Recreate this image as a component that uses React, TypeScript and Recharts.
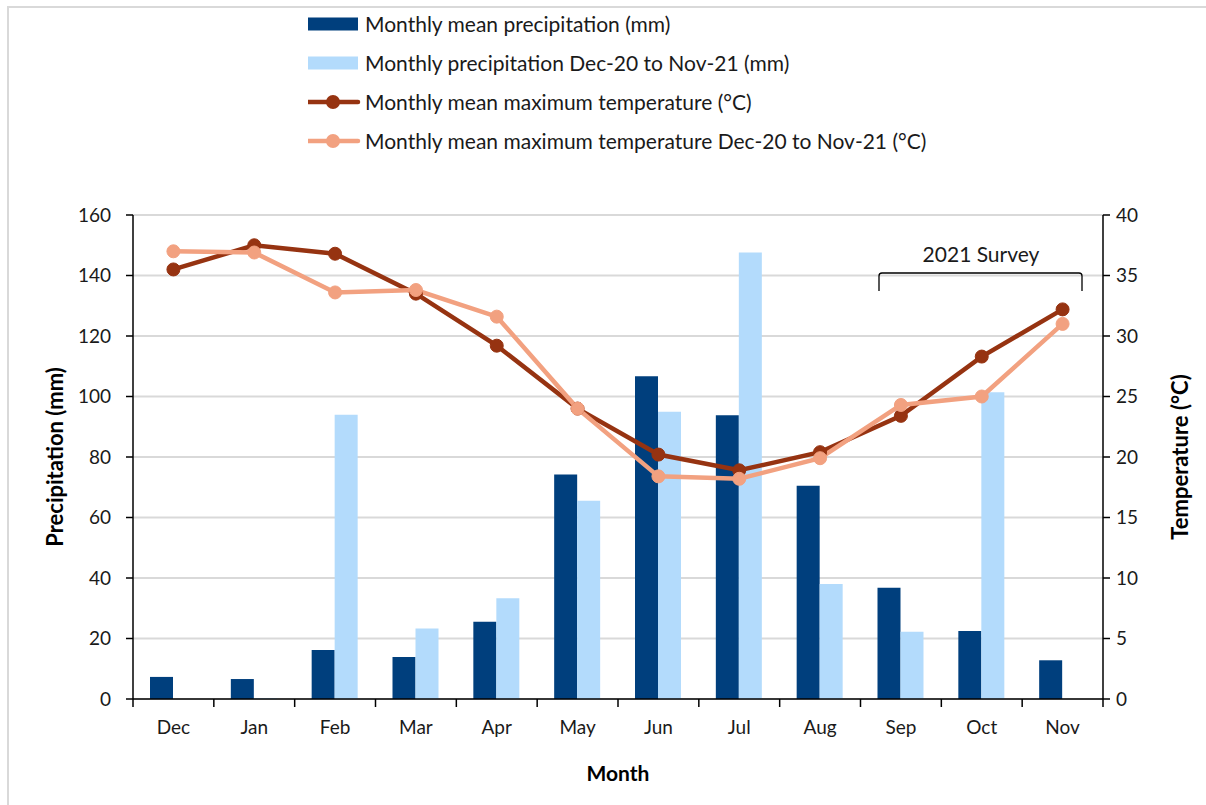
import React from 'react';
import { ComposedChart, Bar, Line, XAxis, YAxis, CartesianGrid, Customized } from 'recharts';

const months = ['Dec', 'Jan', 'Feb', 'Mar', 'Apr', 'May', 'Jun', 'Jul', 'Aug', 'Sep', 'Oct', 'Nov'];
const meanPrecip = [7.3, 6.6, 16.2, 13.9, 25.5, 74.2, 106.7, 93.8, 70.5, 36.8, 22.5, 12.8];
const precip2021 = [0, 0.3, 94.0, 23.3, 33.3, 65.5, 95.0, 147.6, 38.0, 22.2, 101.4, 0];
const meanMaxTemp = [35.5, 37.5, 36.8, 33.5, 29.2, 24.0, 20.2, 18.9, 20.4, 23.4, 28.3, 32.2];
const maxTemp2021 = [37.0, 36.9, 33.6, 33.8, 31.6, 24.0, 18.4, 18.2, 19.9, 24.3, 25.0, 31.0];
const precipTicks = [0, 20, 40, 60, 80, 100, 120, 140, 160];
const tempTicks = [0, 5, 10, 15, 20, 25, 30, 35, 40];

const seriesNames = [
  'Monthly mean precipitation (mm)',
  'Monthly precipitation Dec-20 to Nov-21 (mm)',
  'Monthly mean maximum temperature (°C)',
  'Monthly mean maximum temperature Dec-20 to Nov-21 (°C)',
];

const data = months.map((m, i) => ({
  month: m,
  meanPrecip: meanPrecip[i],
  precip2021: precip2021[i],
  meanMaxTemp: meanMaxTemp[i],
  maxTemp2021: maxTemp2021[i],
}));

const FONT = 'Lato, "Open Sans", sans-serif';
const TEXT = '#1a1a1a';
const DARK_BAR = '#003f7d';
const LIGHT_BAR = '#b3dbfc';
const DARK_LINE = '#963311';
const LIGHT_LINE = '#f2a180';

// layout
const W = 1206;
const H = 805;
const PLOT_LEFT = 133;
const PLOT_RIGHT = 1103;
const BAND = (PLOT_RIGHT - PLOT_LEFT) / months.length;

const MonthTick = (props: any) => {
  const { x, y, payload } = props;
  const last = payload.index === months.length - 1;
  return (
    <g>
      <line x1={x - BAND / 2} x2={x - BAND / 2} y1={y} y2={y + 8} stroke="#000" strokeWidth={1.5} />
      {last && <line x1={x + BAND / 2} x2={x + BAND / 2} y1={y} y2={y + 8} stroke="#000" strokeWidth={1.5} />}
      <text x={x} y={y + 35} textAnchor="middle" fontSize={19} fill={TEXT} fontFamily={FONT}>
        {payload.value}
      </text>
    </g>
  );
};

const SurveyBracket = () => (
  <g>
    <path
      d="M879,291 V276 Q879,273 882,273 H1079 Q1082,273 1082,276 V291"
      fill="none"
      stroke="#000"
      strokeWidth={1.3}
    />
    <text x={981} y={262} textAnchor="middle" fontSize={21} fill={TEXT} fontFamily={FONT}>
      2021 Survey
    </text>
  </g>
);

const legendItems = [
  { name: seriesNames[0], color: DARK_BAR, kind: 'bar' },
  { name: seriesNames[1], color: LIGHT_BAR, kind: 'bar' },
  { name: seriesNames[2], color: DARK_LINE, kind: 'line' },
  { name: seriesNames[3], color: LIGHT_LINE, kind: 'line' },
];

const ChartLegend = () => (
  <div style={{ position: 'absolute', left: 308, top: 4, fontFamily: FONT, fontSize: 21, color: TEXT }}>
    {legendItems.map((it) => (
      <div key={it.name} style={{ display: 'flex', alignItems: 'center', height: 39 }}>
        <svg width={54} height={20} style={{ marginRight: 3 }}>
          {it.kind === 'bar' ? (
            <rect x={0} y={3.5} width={50} height={13} fill={it.color} />
          ) : (
            <g>
              <line x1={0} x2={50} y1={10} y2={10} stroke={it.color} strokeWidth={4.5} strokeLinecap="round" />
              <circle cx={25} cy={10} r={7} fill={it.color} />
            </g>
          )}
        </svg>
        <span style={{ whiteSpace: 'nowrap' }}>{it.name}</span>
      </div>
    ))}
  </div>
);

export default function App() {
  return (
    <div style={{ position: 'absolute', left: 0, top: 0, width: W, height: H, overflow: 'hidden', background: '#fff' }}>
      <div
        style={{
          position: 'absolute',
          left: 7,
          top: 6,
          width: W + 50,
          height: H + 50,
          borderLeft: '2px solid #d9d9d9',
          borderTop: '2px solid #d9d9d9',
        }}
      />
      <div style={{ position: 'absolute', left: 0, top: 0 }}>
        <ComposedChart
          width={W}
          height={H}
          data={data}
          margin={{ top: 215, right: 0, left: 40, bottom: 26 }}
          barGap={0}
        >
          <CartesianGrid vertical={false} stroke="#d9d9d9" strokeWidth={2} yAxisId="precip" />
          <XAxis
            dataKey="month"
            height={80}
            tickLine={false}
            tickSize={0}
            tickMargin={0}
            axisLine={{ stroke: '#000', strokeWidth: 1.5 }}
            tick={<MonthTick />}
            interval={0}
            label={{
              value: 'Month',
              position: 'insideBottom',
              offset: -2,
              style: { fontFamily: FONT, fontSize: 21, fontWeight: 700, fill: '#000' },
            }}
          />
          <YAxis
            yAxisId="precip"
            width={93}
            domain={[0, 160]}
            ticks={precipTicks}
            tickSize={7}
            tickMargin={15}
            tickLine={{ stroke: '#000', strokeWidth: 1.5 }}
            axisLine={{ stroke: '#000', strokeWidth: 1.5 }}
            tick={{ fontFamily: FONT, fontSize: 19, fill: TEXT }}
            label={{
              value: 'Precipitation (mm)',
              angle: -90,
              position: 'insideLeft',
              offset: 15,
              style: { textAnchor: 'middle', fontFamily: FONT, fontSize: 22, fontWeight: 700, fill: '#000' },
            }}
          />
          <YAxis
            yAxisId="temp"
            orientation="right"
            width={103}
            domain={[0, 40]}
            ticks={tempTicks}
            tickSize={7}
            tickMargin={6}
            tickLine={{ stroke: '#000', strokeWidth: 1.5 }}
            axisLine={{ stroke: '#000', strokeWidth: 1.5 }}
            tick={{ fontFamily: FONT, fontSize: 19, fill: TEXT }}
            label={{
              value: 'Temperature (°C)',
              angle: -90,
              position: 'insideRight',
              offset: 26,
              style: { textAnchor: 'middle', fontFamily: FONT, fontSize: 22, fontWeight: 700, fill: '#000' },
            }}
          />
          <Bar yAxisId="precip" dataKey="meanPrecip" name={seriesNames[0]} fill={DARK_BAR} barSize={23} isAnimationActive={false} />
          <Bar yAxisId="precip" dataKey="precip2021" name={seriesNames[1]} fill={LIGHT_BAR} barSize={23} isAnimationActive={false} />
          <Line
            yAxisId="temp"
            type="linear"
            dataKey="meanMaxTemp"
            name={seriesNames[2]}
            stroke={DARK_LINE}
            strokeWidth={4.5}
            dot={{ r: 6.5, fill: DARK_LINE, stroke: DARK_LINE, strokeWidth: 1 }}
            isAnimationActive={false}
          />
          <Line
            yAxisId="temp"
            type="linear"
            dataKey="maxTemp2021"
            name={seriesNames[3]}
            stroke={LIGHT_LINE}
            strokeWidth={4.5}
            dot={{ r: 6.5, fill: LIGHT_LINE, stroke: LIGHT_LINE, strokeWidth: 1 }}
            isAnimationActive={false}
          />
          <Customized component={SurveyBracket} />
        </ComposedChart>
      </div>
      <ChartLegend />
    </div>
  );
}
